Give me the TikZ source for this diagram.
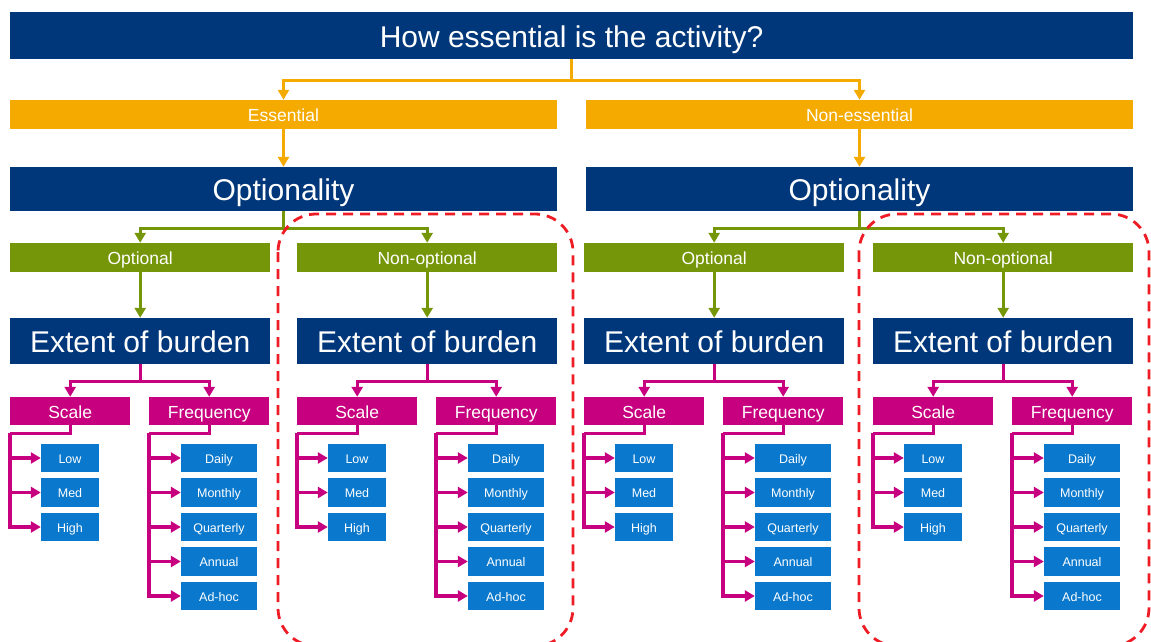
\documentclass[tikz,border=0pt]{standalone}
\usepackage{fontspec}
\setmainfont{Liberation Sans}
\usetikzlibrary{arrows.meta, positioning, calc}
\definecolor{navy}{HTML}{00377A}
\definecolor{amber}{HTML}{F5AA00}
\definecolor{optgreen}{HTML}{76960A}
\definecolor{burdenpink}{HTML}{C6007E}
\definecolor{leafblue}{HTML}{0A78CC}
\definecolor{focusred}{HTML}{EE1C25}

\begin{document}
\begin{tikzpicture}[x=1pt, y=-1pt, every node/.style={text=white, inner sep=0pt, text depth=0pt},
    headbox/.style={fill=navy, minimum height=46pt, text height=23pt, font=\fontsize{30}{36}\selectfont},
    answer/.style={fill=amber, minimum width=547pt, minimum height=29pt, text height=13.5pt, font=\fontsize{17.5}{21}\selectfont},
    choice/.style={fill=optgreen, minimum width=260pt, minimum height=29pt, text height=13.5pt, font=\fontsize{17.5}{21}\selectfont},
    dim/.style={fill=burdenpink, minimum width=120pt, minimum height=28pt, text height=14pt, font=\fontsize{17.5}{21}\selectfont},
    level/.style={fill=leafblue, minimum height=28.5pt, text height=10pt, font=\fontsize{12.5}{15}\selectfont},
    oarrow/.style={amber, line width=3pt, -{Triangle[length=10pt, width=11pt]}},
    garrow/.style={optgreen, line width=3pt, -{Triangle[length=10pt, width=11pt]}},
    pline/.style={burdenpink, line width=3.2pt},
    parrow/.style={pline, -{Triangle[length=10pt, width=11pt]}},
    focus/.style={focusred, line width=2.8pt, dash pattern=on 10pt off 7pt, rounded corners=38pt}]
  \useasboundingbox (0,0) rectangle (1151,641);

  \node[headbox, minimum width=1123pt, minimum height=47pt] (top) at (571.5,35.5) {How essential is the activity?};

  % essential / non-essential
  \foreach \side/\hx/\answer in {a/283.5/Essential, b/859.5/Non-essential} {
    \node[answer] (ans\side) at (\hx,114.5) {\answer};
    \node[headbox, minimum width=547pt, minimum height=44pt] (opt\side) at (\hx,189) {Optionality};
    \draw[oarrow] (top.south) -- ++(0,21) -| (ans\side.north);
    \draw[oarrow] (ans\side) -- (opt\side);
  }

  % four branches
  \foreach \q/\qx/\up/\lbl in {1/10/a/Optional, 2/297/a/Non-optional, 3/584/b/Optional, 4/873/b/Non-optional} {
    \node[choice, anchor=west] (ch\q) at (\qx,257.5) {\lbl};
    \node[headbox, minimum width=260pt, anchor=west] (ext\q) at (\qx,341) {Extent of burden};
    \draw[garrow] (opt\up.south) -- ++(0,17) -| (ch\q.north);
    \draw[garrow] (ch\q) -- (ext\q);
    \node[dim, anchor=west] (sc\q) at (\qx,411) {Scale};
    \node[dim, anchor=west] (fr\q) at (\qx+139,411) {Frequency};
    \draw[parrow] (ext\q.south) -- ++(0,17) -| (sc\q.north);
    \draw[parrow] (ext\q.south) -- ++(0,17) -| (fr\q.north);
    % scale levels
    \coordinate (sj\q) at ($(sc\q.south west)+(0,8)$);
    \draw[pline] (sc\q.south) |- (sj\q);
    \foreach \lv [count=\i] in {Low, Med, High} {
      \node[level, minimum width=58pt] (sc\q-\i) at (\qx+60, {458+34.5*(\i-1)}) {\lv};
      \draw[parrow] (sj\q) |- (sc\q-\i.west);
    }
    % frequency levels
    \coordinate (fj\q) at ($(fr\q.south west)+(0,8)$);
    \draw[pline] (fr\q.south) |- (fj\q);
    \foreach \lv [count=\i] in {Daily, Monthly, Quarterly, Annual, Ad-hoc} {
      \node[level, minimum width=76pt] (fr\q-\i) at (\qx+209, {458+34.5*(\i-1)}) {\lv};
      \draw[parrow] (fj\q) |- (fr\q-\i.west);
    }
  }

  % non-optional branches
  \draw[focus] (278,214) rectangle (573,646);
  \draw[focus] (859,214) rectangle (1149,646);
\end{tikzpicture}
\end{document}
